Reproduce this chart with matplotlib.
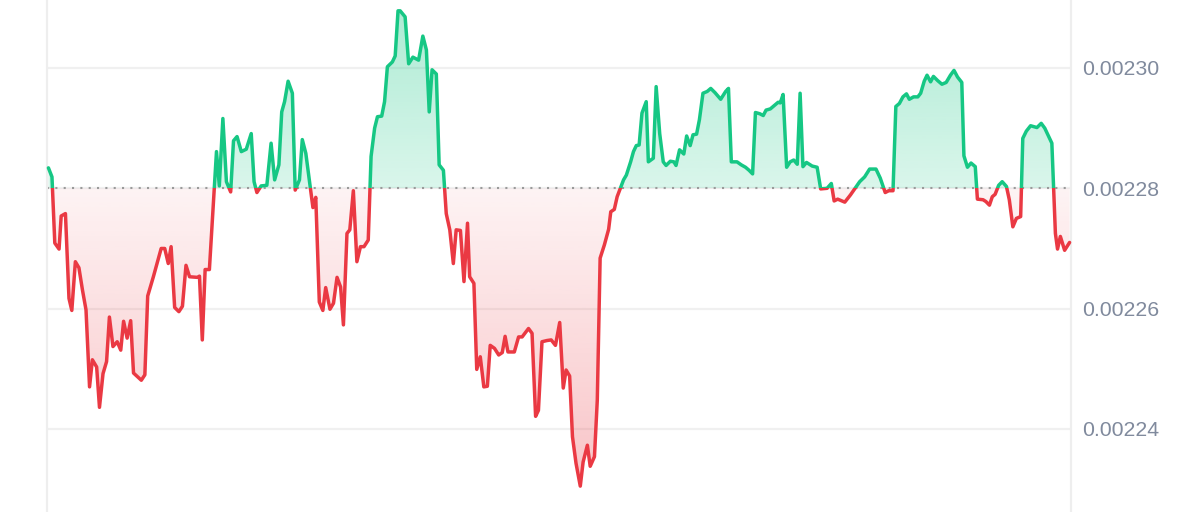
import numpy as np
import matplotlib
matplotlib.use("Agg")
import matplotlib.pyplot as plt
from matplotlib.path import Path
from matplotlib.patches import PathPatch, Rectangle

# minutes since start of the 24h window
minutes = [0, 5, 9, 15, 18, 24, 29, 33, 38, 43, 48, 53, 58, 62, 68, 72, 77, 82, 86, 91,
           97, 102, 106, 111, 116, 120, 131, 136, 140, 148, 159, 164, 169, 173, 178, 184, 189, 194, 199, 210,
           213, 217, 221, 227, 237, 241, 246, 251, 257, 261, 266, 272, 279, 286, 290, 294, 300, 308, 314, 319,
           325, 329, 333, 338, 344, 348, 354, 358, 363, 373, 377, 382, 387, 391, 397, 402, 407, 412, 416, 421,
           425, 430, 435, 440, 445, 451, 455, 460, 464, 470, 474, 478, 485, 489, 493, 496, 503, 508, 514, 522,
           528, 533, 537, 541, 547, 551, 557, 561, 566, 571, 575, 581, 586, 591, 594, 600, 604, 609, 614, 619,
           623, 629, 635, 640, 644, 648, 657, 663, 668, 677, 682, 687, 691, 696, 703, 709, 715, 721, 726, 730,
           735, 739, 744, 750, 754, 760, 764, 770, 774, 778, 784, 790, 793, 798, 802, 811, 815, 821, 825, 829,
           833, 837, 843, 846, 853, 857, 862, 867, 871, 877, 882, 885, 890, 896, 900, 905, 909, 914, 918, 923,
           929, 934, 940, 948, 955, 959, 963, 971, 977, 983, 988, 993, 997, 1003, 1008, 1012, 1018, 1024, 1029, 1032,
           1036, 1041, 1046, 1051, 1056, 1060, 1064, 1069, 1077, 1084, 1089, 1098, 1104, 1108, 1113, 1123, 1131, 1144, 1151, 1158,
           1167, 1173, 1180, 1185, 1191, 1195, 1200, 1205, 1210, 1214, 1220, 1226, 1230, 1235, 1239, 1244, 1248, 1254, 1260, 1266,
           1272, 1277, 1282, 1288, 1291, 1296, 1301, 1307, 1310, 1318, 1322, 1327, 1331, 1335, 1340, 1345, 1351, 1355, 1360, 1365,
           1371, 1374, 1379, 1385, 1394, 1400, 1405, 1415, 1420, 1423, 1427, 1433, 1440]

prices = [0.0022834, 0.0022819, 0.0022709, 0.0022699, 0.0022754, 0.0022758, 0.0022617, 0.0022597, 0.0022678, 0.0022668,
          0.0022631, 0.0022598, 0.0022470, 0.0022515, 0.0022503, 0.0022436, 0.0022492, 0.0022512, 0.0022586, 0.0022537,
          0.0022545, 0.0022531, 0.0022579, 0.0022551, 0.0022580, 0.0022493, 0.0022481, 0.0022490, 0.0022621, 0.0022653,
          0.0022700, 0.0022700, 0.0022675, 0.0022703, 0.0022602, 0.0022595, 0.0022604, 0.0022672, 0.0022653, 0.0022652,
          0.0022654, 0.0022548, 0.0022665, 0.0022665, 0.0022861, 0.0022804, 0.0022916, 0.0022811, 0.0022794, 0.0022879,
          0.0022886, 0.0022861, 0.0022865, 0.0022891, 0.0022811, 0.0022793, 0.0022804, 0.0022805, 0.0022875, 0.0022814,
          0.0022839, 0.0022927, 0.0022944, 0.0022978, 0.0022958, 0.0022797, 0.0022814, 0.0022881, 0.0022858, 0.0022768,
          0.0022785, 0.0022611, 0.0022597, 0.0022635, 0.0022599, 0.0022609, 0.0022652, 0.0022636, 0.0022573, 0.0022725,
          0.0022731, 0.0022796, 0.0022678, 0.0022703, 0.0022703, 0.0022714, 0.0022853, 0.0022900, 0.0022919, 0.0022920,
          0.0022944, 0.0023002, 0.0023010, 0.0023020, 0.0023095, 0.0023095, 0.0023085, 0.0023007, 0.0023018, 0.0023013,
          0.0023053, 0.0023030, 0.0022927, 0.0022997, 0.0022990, 0.0022839, 0.0022830, 0.0022758, 0.0022731, 0.0022675,
          0.0022731, 0.0022730, 0.0022645, 0.0022742, 0.0022653, 0.0022642, 0.0022499, 0.0022520, 0.0022470, 0.0022471,
          0.0022539, 0.0022534, 0.0022523, 0.0022527, 0.0022554, 0.0022528, 0.0022528, 0.0022553, 0.0022553, 0.0022567,
          0.0022559, 0.0022421, 0.0022431, 0.0022545, 0.0022547, 0.0022548, 0.0022539, 0.0022577, 0.0022468, 0.0022498,
          0.0022488, 0.0022387, 0.0022343, 0.0022305, 0.0022345, 0.0022373, 0.0022338, 0.0022354, 0.0022448, 0.0022684,
          0.0022706, 0.0022732, 0.0022761, 0.0022765, 0.0022786, 0.0022814, 0.0022822, 0.0022844, 0.0022861, 0.0022871,
          0.0022872, 0.0022925, 0.0022944, 0.0022844, 0.0022850, 0.0022969, 0.0022891, 0.0022844, 0.0022838, 0.0022845,
          0.0022844, 0.0022838, 0.0022864, 0.0022857, 0.0022887, 0.0022871, 0.0022889, 0.0022890, 0.0022914, 0.0022958,
          0.0022961, 0.0022966, 0.0022959, 0.0022948, 0.0022961, 0.0022966, 0.0022844, 0.0022844, 0.0022839, 0.0022835,
          0.0022830, 0.0022824, 0.0022926, 0.0022924, 0.0022921, 0.0022930, 0.0022932, 0.0022938, 0.0022943, 0.0022942,
          0.0022956, 0.0022835, 0.0022844, 0.0022847, 0.0022840, 0.0022958, 0.0022836, 0.0022843, 0.0022837, 0.0022835,
          0.0022799, 0.0022800, 0.0022808, 0.0022779, 0.0022782, 0.0022777, 0.0022789, 0.0022811, 0.0022819, 0.0022832,
          0.0022832, 0.0022817, 0.0022793, 0.0022796, 0.0022796, 0.0022936, 0.0022941, 0.0022952, 0.0022957, 0.0022948,
          0.0022952, 0.0022952, 0.0022958, 0.0022978, 0.0022988, 0.0022977, 0.0022986, 0.0022979, 0.0022973, 0.0022976,
          0.0022988, 0.0022996, 0.0022985, 0.0022976, 0.0022854, 0.0022835, 0.0022842, 0.0022836, 0.0022782, 0.0022781,
          0.0022778, 0.0022772, 0.0022786, 0.0022790, 0.0022805, 0.0022811, 0.0022803, 0.0022781, 0.0022736, 0.0022750,
          0.0022753, 0.0022883, 0.0022895, 0.0022904, 0.0022901, 0.0022908, 0.0022900, 0.0022875, 0.0022725, 0.0022699,
          0.0022720, 0.0022697, 0.0022710]

baseline = 0.00228
y_ticks = [0.00224, 0.00226, 0.00228, 0.00230]
y_tick_labels = ["0.00224", "0.00226", "0.00228", "0.00230"]

GREEN = "#16c784"
RED = "#ea3943"
TEXT = "#808a9d"
GRID = "#f0f0f0"

t = np.array(minutes, dtype=float)
v = np.array(prices)

fig = plt.figure(figsize=(12, 5.12), dpi=100)
ax = fig.add_axes([47 / 1200, 0, 1024 / 1200, 1])
ax.set_xlim(-2, 1442)
ax.set_ylim(0.0022262, 0.0023113)
y0, y1 = ax.get_ylim()
x0, x1 = ax.get_xlim()

# grid
for yt in y_ticks:
    ax.axhline(yt, color=GRID, lw=1.6, zorder=0)

# gradient fills clipped to area between curve and baseline
poly = np.vstack([[t[0], baseline], np.column_stack([t, v]), [t[-1], baseline], [t[0], baseline]])
clip_path = Path(poly)


def grad_image(rgb, a_near, a_far, lower, upper, near_at_bottom):
    n = 256
    alpha = np.linspace(a_near, a_far, n) if near_at_bottom else np.linspace(a_far, a_near, n)
    img = np.zeros((n, 1, 4))
    img[:, 0, 0] = rgb[0]
    img[:, 0, 1] = rgb[1]
    img[:, 0, 2] = rgb[2]
    img[:, 0, 3] = alpha
    im = ax.imshow(img, extent=[t[0], t[-1], lower, upper], origin="lower",
                   aspect="auto", interpolation="bilinear", zorder=1)
    patch = PathPatch(clip_path, transform=ax.transData, facecolor="none", edgecolor="none")
    ax.add_patch(patch)
    im.set_clip_path(patch)


g_rgb = (22 / 255, 199 / 255, 132 / 255)
r_rgb = (234 / 255, 57 / 255, 67 / 255)
grad_image(g_rgb, 0.16, 0.36, baseline, y1, near_at_bottom=True)
grad_image(r_rgb, 0.06, 0.32, y0, baseline, near_at_bottom=False)

# dotted baseline
ax.axhline(baseline, color="#9a9a9a", lw=1.5, ls=(0, (1, 3)), zorder=2)

# line coloured above / below baseline via clipping
for col, lo, hi in [(GREEN, baseline, y1 + 1), (RED, y0 - 1, baseline)]:
    ln, = ax.plot(t, v, color=col, lw=2.5, solid_joinstyle="round", solid_capstyle="round", zorder=3)
    rect = Rectangle((x0 - 10, lo), (x1 - x0) + 20, hi - lo, transform=ax.transData)
    ln.set_clip_path(rect)

ax.set_xlim(x0, x1)
ax.set_ylim(y0, y1)
ax.set_xticks([])
ax.set_yticks(y_ticks)
ax.set_yticklabels(y_tick_labels)
ax.yaxis.tick_right()
ax.tick_params(axis="y", length=0, pad=8.3, labelsize=15.3, labelcolor=TEXT)
for lbl in ax.get_yticklabels():
    lbl.set_fontfamily("Liberation Sans")

for s in ["top", "bottom"]:
    ax.spines[s].set_visible(False)
for s in ["left", "right"]:
    ax.spines[s].set_color("#eeeeee")
    ax.spines[s].set_linewidth(1.6)

fig.savefig("out.png", dpi=100)
